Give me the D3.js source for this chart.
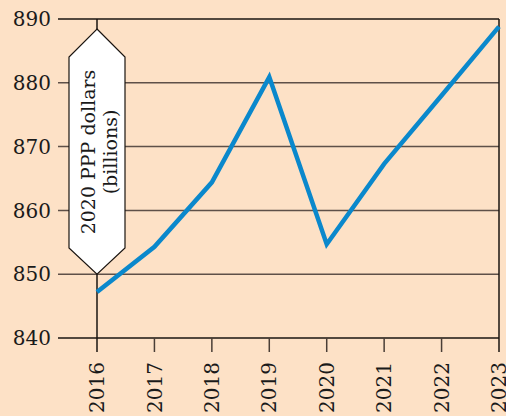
<!DOCTYPE html>
<html>
<head>
<meta charset="utf-8">
<script src="https://cdn.jsdelivr.net/npm/d3@7"></script>
<style>
  body { margin: 0; background: #fde1c6; }
  svg { display: block; }
</style>
</head>
<body>
<div id="chart"></div>
<script>
const years = [2016, 2017, 2018, 2019, 2020, 2021, 2022, 2023];
const values = [847.2, 854.3, 864.4, 880.9, 854.7, 867.3, 878.0, 888.8];
const yTicks = [840, 850, 860, 870, 880, 890];
const unitLines = ["2020 PPP dollars", "(billions)"];

const width = 506, height = 416;
const fontFam = "'DejaVu Serif', 'Liberation Serif', serif";

const svg = d3.select("#chart").append("svg")
    .attr("width", width)
    .attr("height", height);

svg.append("rect").attr("width", width).attr("height", height).attr("fill", "#fde1c6");

// Escalas
const x = d3.scalePoint().domain(years).range([97, 499]);
const y = d3.scaleLinear().domain([840, 890]).range([338, 19]);

// lineas horizontales
svg.selectAll("line.grid")
    .data(yTicks)
    .enter()
    .append("line")
    .attr("class", "grid")
    .attr("x1", 58)
    .attr("x2", 499)
    .attr("y1", d => y(d))
    .attr("y2", d => y(d))
    .attr("stroke", d => (d === 890 || d === 840) ? "#1a1410" : "#5e5048")
    .attr("stroke-width", 1.5);

svg.selectAll("text.ylab")
    .data(yTicks)
    .enter()
    .append("text")
    .attr("class", "ylab")
    .attr("x", 51)
    .attr("y", d => y(d))
    .attr("dy", "0.36em")
    .attr("text-anchor", "end")
    .style("font-family", fontFam)
    .style("font-size", "20px")
    .attr("fill", "#1a1a1a")
    .text(d => d);

// ejes verticales
svg.append("line")
    .attr("x1", x(2016)).attr("x2", x(2016))
    .attr("y1", y(890)).attr("y2", 352)
    .attr("stroke", "#1a1410").attr("stroke-width", 1.5);
svg.append("line")
    .attr("x1", x(2023)).attr("x2", x(2023))
    .attr("y1", y(890)).attr("y2", 352)
    .attr("stroke", "#1a1410").attr("stroke-width", 1.5);

// ticks x
svg.selectAll("line.xtick")
    .data(years.slice(1, -1))
    .enter()
    .append("line")
    .attr("class", "xtick")
    .attr("x1", d => x(d)).attr("x2", d => x(d))
    .attr("y1", y(840)).attr("y2", 352)
    .attr("stroke", "#4a3e36").attr("stroke-width", 1.5);

svg.selectAll("text.xlab")
    .data(years)
    .enter()
    .append("text")
    .attr("class", "xlab")
    .attr("transform", d => `translate(${x(d)},362) rotate(-90)`)
    .attr("dy", "0.36em")
    .attr("text-anchor", "end")
    .style("font-family", fontFam)
    .style("font-size", "20px")
    .attr("fill", "#1a1a1a")
    .text(d => d);

// etiqueta de unidades (hexagono)
const cx = x(2016), hw = 28;
const hexTop = 29, hexBot = y(850);
const hex = [[cx, hexTop], [cx + hw, 57], [cx + hw, 248], [cx, hexBot], [cx - hw, 248], [cx - hw, 57]];
svg.append("path")
    .attr("d", d3.line()(hex) + "Z")
    .attr("fill", "#ffffff")
    .attr("stroke", "#1a1410")
    .attr("stroke-width", 1.2);

svg.selectAll("text.unit")
    .data(unitLines)
    .enter()
    .append("text")
    .attr("class", "unit")
    .attr("transform", (d, i) => `translate(${cx - 9 + i * 22},152) rotate(-90)`)
    .attr("dy", "0.36em")
    .attr("text-anchor", "middle")
    .style("font-family", fontFam)
    .style("font-size", "19px")
    .attr("fill", "#1a1a1a")
    .text(d => d);

// linea de datos
const line = d3.line()
    .x((d, i) => x(years[i]))
    .y(d => y(d));

svg.append("path")
    .datum(values)
    .attr("d", line)
    .attr("fill", "none")
    .attr("stroke", "#0a88cc")
    .attr("stroke-width", 4.5)
    .attr("stroke-linejoin", "miter");
</script>
</body>
</html>
